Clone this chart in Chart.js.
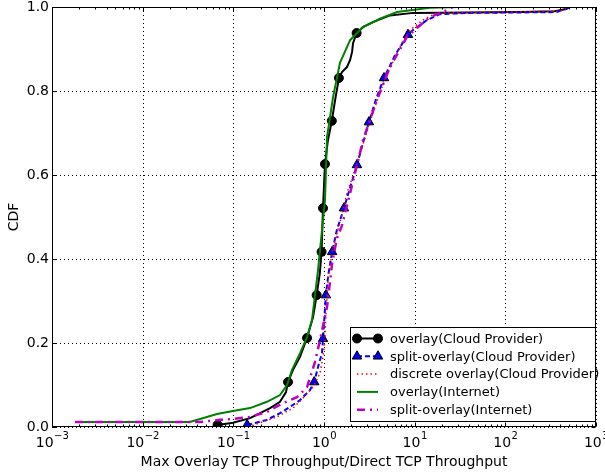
<!DOCTYPE html>
<html>
<head>
<meta charset="utf-8">
<script src="https://cdn.jsdelivr.net/npm/chart.js@4.4.1/dist/chart.umd.min.js"></script>
<style>
  html, body { margin: 0; padding: 0; background: #fff; }
  #wrap { width: 605px; height: 473px; }
</style>
</head>
<body>
<div id="wrap"><canvas id="cdf" width="605" height="473"></canvas></div>
<script>
// throughput ratio (x) against cumulative fraction (y), one pair of arrays per run
const overlayCloudX = [0.067, 0.099, 0.153, 0.197, 0.254, 0.327, 0.381, 0.401, 0.455, 0.544, 0.65, 0.757, 0.83, 0.90, 0.94, 0.975, 1.025, 1.10, 1.22, 1.33, 1.46, 1.58, 1.79, 1.94, 2.04, 2.09, 2.29, 2.69, 3.47, 5.34, 9.6, 40, 150, 350, 470, 515];
const overlayCloudY = [0.005, 0.01, 0.021, 0.033, 0.045, 0.06, 0.083, 0.107, 0.136, 0.167, 0.212, 0.262, 0.314, 0.367, 0.417, 0.521, 0.626, 0.68, 0.729, 0.78, 0.831, 0.845, 0.857, 0.874, 0.893, 0.914, 0.938, 0.952, 0.964, 0.98, 0.986, 0.987, 0.988, 0.99, 0.995, 1.0];
const overlayCloudMarks = [0, 7, 10, 12, 14, 15, 16, 18, 20, 26];

const splitCloudX = [0.142, 0.235, 0.327, 0.422, 0.544, 0.70, 0.78, 0.86, 0.95, 0.975, 1.05, 1.12, 1.23, 1.39, 1.66, 1.94, 2.31, 2.69, 3.13, 3.74, 4.59, 6.06, 8.43, 9.6, 13.7, 19, 40.7, 145, 371, 515];
const splitCloudY = [0.005, 0.017, 0.033, 0.048, 0.064, 0.088, 0.107, 0.143, 0.176, 0.21, 0.314, 0.365, 0.417, 0.47, 0.521, 0.57, 0.624, 0.676, 0.726, 0.78, 0.831, 0.885, 0.934, 0.945, 0.969, 0.983, 0.986, 0.987, 0.988, 1.0];
const splitCloudMarks = [0, 6, 9, 10, 12, 14, 16, 18, 20, 22];

const discreteCloudX = [0.145, 0.197, 0.303, 0.455, 0.587, 0.757, 0.904, 0.975, 1.025, 1.04, 1.11, 1.26, 1.5, 1.79, 2.2, 2.75, 3.25, 3.9, 4.75, 6.38, 7.2, 8.9, 12.3, 17.6, 100, 400, 515];
const discreteCloudY = [0.0, 0.01, 0.024, 0.045, 0.069, 0.095, 0.128, 0.167, 0.207, 0.248, 0.357, 0.429, 0.486, 0.557, 0.612, 0.68, 0.73, 0.78, 0.83, 0.89, 0.914, 0.945, 0.969, 0.986, 0.988, 0.99, 1.0];

const overlayInetX = [0.0018, 0.033, 0.043, 0.066, 0.099, 0.153, 0.235, 0.327, 0.391, 0.444, 0.544, 0.65, 0.738, 0.86, 0.975, 1.025, 1.08, 1.26, 1.5, 1.94, 2.69, 4.14, 6.38, 14.7, 31.6];
const overlayInetY = [0.012, 0.012, 0.019, 0.031, 0.038, 0.045, 0.06, 0.076, 0.10, 0.136, 0.176, 0.214, 0.255, 0.374, 0.493, 0.54, 0.69, 0.786, 0.867, 0.921, 0.952, 0.972, 0.988, 0.998, 1.0];

const splitInetX = [0.0018, 0.043, 0.0713, 0.099, 0.153, 0.235, 0.353, 0.504, 0.65, 0.796, 0.904, 1.08, 1.23, 1.39, 1.58, 1.94, 2.49, 2.69, 3.84, 5.34, 8.22, 10.6, 14.7, 20.5, 26.4];
const splitInetY = [0.012, 0.012, 0.017, 0.019, 0.024, 0.036, 0.057, 0.071, 0.095, 0.155, 0.207, 0.286, 0.39, 0.45, 0.48, 0.557, 0.652, 0.683, 0.779, 0.857, 0.929, 0.95, 0.976, 0.988, 1.0];

const decades = [-3, -2, -1, 0, 1, 2, 3];
const cdfTicks = [0, 0.2, 0.4, 0.6, 0.8, 1.0];
const xTitle = 'Max Overlay TCP Throughput/Direct TCP Throughput';
const yTitle = 'CDF';

const FONT = '"DejaVu Sans", "Liberation Sans", sans-serif';

const toPoints = (xs, ys) => xs.map((x, i) => ({ x, y: ys[i] }));
const markedAt = (marks, r) => ctx => (marks.includes(ctx.dataIndex) ? r : 0);

const datasets = [
  {
    label: 'overlay(Cloud Provider)',
    data: toPoints(overlayCloudX, overlayCloudY),
    borderColor: '#000', borderWidth: 2,
    pointStyle: 'circle', pointRadius: markedAt(overlayCloudMarks, 4.5),
    pointBackgroundColor: '#000', pointBorderColor: '#000', pointBorderWidth: 1,
    legendRadius: 4.5, order: 4
  },
  {
    label: 'split-overlay(Cloud Provider)',
    data: toPoints(splitCloudX, splitCloudY),
    borderColor: '#0000ff', borderWidth: 2, borderDash: [5, 3],
    pointStyle: 'triangle', pointRadius: markedAt(splitCloudMarks, 5.5),
    pointBackgroundColor: '#0000ff', pointBorderColor: '#000', pointBorderWidth: 1,
    legendRadius: 5.5, order: 3
  },
  {
    label: 'discrete overlay(Cloud Provider)',
    data: toPoints(discreteCloudX, discreteCloudY),
    borderColor: '#ff0000', borderWidth: 1.5, borderDash: [1.5, 3],
    pointRadius: 0, order: 2
  },
  {
    label: 'overlay(Internet)',
    data: toPoints(overlayInetX, overlayInetY),
    borderColor: '#008000', borderWidth: 2,
    pointRadius: 0, order: 1
  },
  {
    label: 'split-overlay(Internet)',
    data: toPoints(splitInetX, splitInetY),
    borderColor: '#bf00bf', borderWidth: 2.5, borderDash: [8, 5, 2, 5],
    pointRadius: 0, order: 0
  }
];

// the scales are hidden; grid, ticks, box and labels are drawn here from them
const axisFrame = {
  id: 'axisFrame',
  beforeDatasetsDraw(chart) {
    const { ctx, chartArea: a, scales: { x, y } } = chart;
    ctx.save();
    ctx.strokeStyle = '#000';
    ctx.lineWidth = 1;
    ctx.setLineDash([1, 3]);
    ctx.beginPath();
    decades.forEach(e => {
      const px = Math.round(x.getPixelForValue(Math.pow(10, e))) + 0.5;
      ctx.moveTo(px, a.top); ctx.lineTo(px, a.bottom);
    });
    cdfTicks.forEach(v => {
      const py = Math.round(y.getPixelForValue(v)) + 0.5;
      ctx.moveTo(a.left, py); ctx.lineTo(a.right, py);
    });
    ctx.stroke();
    ctx.restore();
  },
  afterDatasetsDraw(chart) {
    const { ctx, chartArea: a, scales: { x, y } } = chart;
    const L = Math.round(a.left) + 0.5;
    const R = Math.round(a.right) - 0.5;
    const T = Math.round(a.top) + 0.5;
    const B = Math.round(a.bottom) - 0.5;
    const xPix = v => Math.round(x.getPixelForValue(v)) + 0.5;

    ctx.save();
    ctx.strokeStyle = '#000';
    ctx.lineWidth = 1;
    ctx.beginPath();
    for (let e = decades[0]; e < decades[decades.length - 1]; e++) {
      for (let m = 2; m <= 9; m++) {
        const px = xPix(m * Math.pow(10, e));
        ctx.moveTo(px, B); ctx.lineTo(px, B - 2);
        ctx.moveTo(px, T); ctx.lineTo(px, T + 2);
      }
    }
    decades.forEach(e => {
      const px = xPix(Math.pow(10, e));
      ctx.moveTo(px, B); ctx.lineTo(px, B - 4);
      ctx.moveTo(px, T); ctx.lineTo(px, T + 4);
    });
    cdfTicks.forEach(v => {
      const py = Math.round(y.getPixelForValue(v)) + 0.5;
      ctx.moveTo(L, py); ctx.lineTo(L + 4, py);
      ctx.moveTo(R, py); ctx.lineTo(R - 4, py);
    });
    ctx.stroke();
    ctx.strokeRect(L, T, R - L, B - T);

    ctx.fillStyle = '#000';

    // 10^n labels under the log axis
    ctx.textAlign = 'left';
    ctx.textBaseline = 'alphabetic';
    decades.forEach(e => {
      const px = x.getPixelForValue(Math.pow(10, e));
      const sup = e < 0 ? '\u2212' + (-e) : String(e);
      ctx.font = '14px ' + FONT;
      const wBase = ctx.measureText('10').width;
      ctx.font = '10px ' + FONT;
      const wSup = ctx.measureText(sup).width;
      const x0 = px - (wBase + wSup) / 2;
      ctx.font = '14px ' + FONT;
      ctx.fillText('10', x0, a.bottom + 20);
      ctx.font = '10px ' + FONT;
      ctx.fillText(sup, x0 + wBase + 0.5, a.bottom + 12);
    });

    // CDF labels
    ctx.font = '14px ' + FONT;
    ctx.textAlign = 'right';
    ctx.textBaseline = 'middle';
    cdfTicks.forEach(v => {
      ctx.fillText(v.toFixed(1), a.left - 3, y.getPixelForValue(v) + 0.5);
    });

    // axis titles
    ctx.textAlign = 'center';
    ctx.fillText(xTitle, (a.left + a.right) / 2, 462);
    ctx.save();
    ctx.translate(14, (a.top + a.bottom) / 2);
    ctx.rotate(-Math.PI / 2);
    ctx.fillText(yTitle, 0, 0);
    ctx.restore();
    ctx.restore();
  },
  afterDraw(chart) {
    // legend box in the lower right corner of the plot
    const { ctx, chartArea: a } = chart;
    const boxL = 350.5, boxT = 327.5, boxR = Math.round(a.right) - 0.5, boxB = 421.5;
    ctx.save();
    ctx.fillStyle = '#fff';
    ctx.fillRect(boxL, boxT, boxR - boxL, boxB - boxT);
    ctx.strokeStyle = '#000';
    ctx.lineWidth = 1;
    ctx.strokeRect(boxL, boxT, boxR - boxL, boxB - boxT);

    chart.data.datasets.forEach((ds, i) => {
      const cy = boxT + 11 + i * 17.8;
      const x1 = 357, x2 = 378;
      ctx.strokeStyle = ds.borderColor;
      ctx.lineWidth = ds.borderWidth;
      ctx.setLineDash(ds.borderDash || []);
      ctx.beginPath();
      ctx.moveTo(x1, cy); ctx.lineTo(x2, cy);
      ctx.stroke();
      ctx.setLineDash([]);
      if (ds.legendRadius) {
        ctx.fillStyle = ds.pointBackgroundColor;
        ctx.strokeStyle = ds.pointBorderColor;
        ctx.lineWidth = ds.pointBorderWidth;
        const opts = { pointStyle: ds.pointStyle, radius: ds.legendRadius, borderWidth: ds.pointBorderWidth, rotation: 0 };
        Chart.helpers.drawPoint(ctx, opts, x1, cy);
        Chart.helpers.drawPoint(ctx, opts, x2, cy);
      }
      ctx.fillStyle = '#000';
      ctx.font = '13px ' + FONT;
      ctx.textAlign = 'left';
      ctx.textBaseline = 'middle';
      ctx.fillText(ds.label, 390, cy + 1);
    });
    ctx.restore();
  }
};

new Chart(document.getElementById('cdf'), {
  type: 'line',
  data: { datasets },
  plugins: [axisFrame],
  options: {
    responsive: false,
    animation: false,
    devicePixelRatio: 1,
    layout: { padding: { left: 52, top: 7, right: 9, bottom: 46 } },
    elements: { line: { tension: 0, fill: false } },
    plugins: { legend: { display: false }, tooltip: { enabled: false } },
    scales: {
      x: { type: 'logarithmic', min: 0.001, max: 1000, display: false },
      y: { type: 'linear', min: 0, max: 1, display: false }
    }
  }
});
</script>
</body>
</html>
